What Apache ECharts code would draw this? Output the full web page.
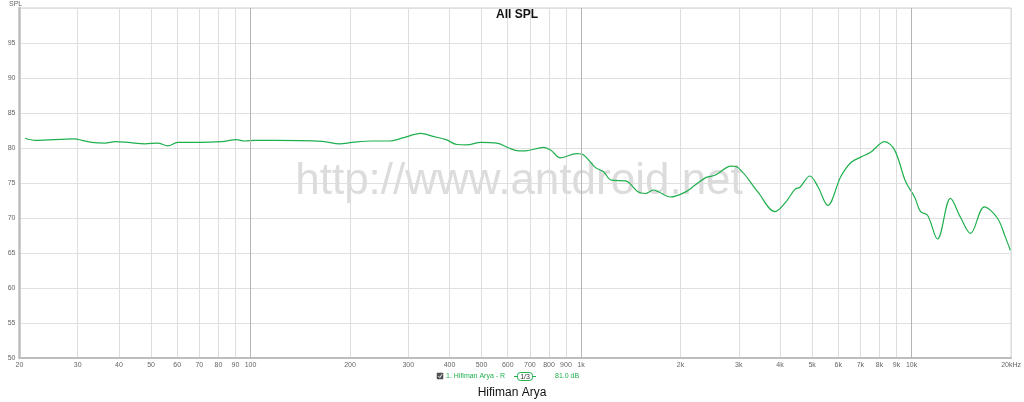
<!DOCTYPE html>
<html>
<head>
<meta charset="utf-8">
<script src="https://cdn.jsdelivr.net/npm/echarts@6/dist/echarts.min.js"></script>
<style>
html,body{margin:0;padding:0;background:#fff;}
#chart{width:1024px;height:402px;}
</style>
</head>
<body>
<div id="chart"></div>
<script>
// Frequency (Hz) and SPL (dB)
var freqs = [20.8,22.3,29.4,30.9,33.1,36.3,38.9,42.6,47.9,52.4,56.2,60.2,67.8,81.8,90.7,95.9,102.8,118,165,186,203,233,263,287,328,354,390,421,451,498,556,604,648,680,771,809,867,969,1018,1106,1169,1236,1363,1491,1566,1655,1714,1862,2066,2214,2390,2544,2844,2986,3430,3862,4168,4436,4594,4924,5204,5578,6104,6544,7016,7520,8292,8888,9592,10210,10646,11176,11980,13114,14058,15068,16608,18174,19212,19890];
var spl = [81.4,81.1,81.3,81.1,80.8,80.7,80.9,80.8,80.6,80.7,80.3,80.8,80.8,80.9,81.2,81.0,81.1,81.1,80.95,80.6,80.8,81.0,81.0,81.4,82.1,81.7,81.2,80.5,80.45,80.8,80.7,80.0,79.6,79.6,80.1,79.7,78.6,79.2,79.0,77.2,76.6,75.4,75.3,73.7,73.5,74.0,73.75,73.0,73.7,74.7,75.8,76.1,77.4,77.2,73.7,70.9,72.3,74.1,74.4,76.0,74.5,71.8,75.9,77.9,78.7,79.4,80.9,79.7,75.2,73.0,70.9,70.4,67.0,72.8,70.1,67.8,71.6,70.0,67.3,65.4];

// X-axis grid / tick frequencies and their labels
var tickFreqs = [20,30,40,50,60,70,80,90,100,200,300,400,500,600,700,800,900,1000,2000,3000,4000,5000,6000,7000,8000,9000,10000,20000];
var tickLabels = ['20','30','40','50','60','70','80','90','100','200','300','400','500','600','700','800','900','1k','2k','3k','4k','5k','6k','7k','8k','9k','10k','20kHz'];
var decadeFreqs = [100,1000,10000];

var title = 'All SPL';
var subtitle = 'Hifiman Arya';
var legendName = '1. Hifiman Arya - R';
var legendSmoothing = '1/3';
var legendLevel = '81.0 dB';
var watermark = 'http://www.antdroid.net';
var yName = 'SPL';

var lg = function(v){ return Math.log(v) / Math.LN10; };
var tickPos = tickFreqs.map(lg);
var labelMap = {};
tickFreqs.forEach(function(f, i){ labelMap[Math.round(lg(f) * 10000)] = tickLabels[i]; });

var chart = echarts.init(document.getElementById('chart'), null, {renderer: 'canvas'});
var FONT = '"Liberation Sans", Arial, sans-serif';
var green = '#1fb04e';

chart.setOption({
  backgroundColor: '#ffffff',
  animation: false,
  grid: {left: 19.5, right: 9.5, top: 8, bottom: 44, show: true, borderColor: '#cfcfcf', borderWidth: 1},
  xAxis: {
    type: 'value',
    min: lg(20),
    max: lg(20000),
    axisLine: {show: true, onZero: false, lineStyle: {color: '#bdbdbd', width: 2}},
    axisTick: {show: false, customValues: tickPos},
    axisLabel: {
      customValues: tickPos,
      fontSize: 7, color: '#666', fontFamily: FONT, margin: 4,
      formatter: function(v){ var k = labelMap[Math.round(v * 10000)]; return k === undefined ? '' : k; }
    },
    splitLine: {show: true, lineStyle: {color: '#dedede', width: 1}}
  },
  yAxis: {
    type: 'value',
    min: 50, max: 100, interval: 5,
    axisLine: {show: true, lineStyle: {color: '#bdbdbd', width: 2.5}},
    axisTick: {show: false},
    axisLabel: {
      fontSize: 7, color: '#666', fontFamily: FONT, margin: 4,
      formatter: function(v){ return v >= 100 ? '' : String(v); }
    },
    splitLine: {show: true, lineStyle: {color: '#e0e0e0', width: 1}}
  },
  graphic: [
    {type: 'text', left: 9, top: 1, z: 5, style: {text: yName, font: '7px ' + FONT, fill: '#666'}},
    {type: 'text', x: 519, y: 182, z: 1, silent: true,
     style: {text: watermark, font: '44px ' + FONT, fill: '#dcdcdc', textAlign: 'center', textVerticalAlign: 'middle'}},
    {type: 'text', x: 517, y: 15, z: 5,
     style: {text: title, font: 'bold 12px ' + FONT, fill: '#111', textAlign: 'center', textVerticalAlign: 'middle'}},
    {type: 'text', x: 512, y: 393, z: 5,
     style: {text: subtitle, font: '12px ' + FONT, fill: '#111', textAlign: 'center', textVerticalAlign: 'middle'}},
    // legend: checkbox
    {type: 'rect', z: 5, shape: {x: 437, y: 373, width: 6, height: 6}, style: {fill: '#555', stroke: '#444', lineWidth: 0.5}},
    {type: 'polyline', z: 6, shape: {points: [[438.3, 376], [439.8, 377.6], [442, 374.2]]}, style: {stroke: '#fff', lineWidth: 0.9, fill: null}},
    {type: 'text', x: 446, y: 376.5, z: 5,
     style: {text: legendName, font: '7px ' + FONT, fill: green, textVerticalAlign: 'middle'}},
    {type: 'line', z: 5, shape: {x1: 514, y1: 376.5, x2: 536, y2: 376.5}, style: {stroke: green, lineWidth: 1}},
    {type: 'rect', z: 6, shape: {x: 517.5, y: 372.5, width: 15, height: 8, r: 3}, style: {fill: '#fff', stroke: green, lineWidth: 1}},
    {type: 'text', x: 525, y: 376.8, z: 7,
     style: {text: legendSmoothing, font: '7px ' + FONT, fill: '#333', textAlign: 'center', textVerticalAlign: 'middle'}},
    {type: 'text', x: 555, y: 376.5, z: 5,
     style: {text: legendLevel, font: '7px ' + FONT, fill: green, textVerticalAlign: 'middle'}}
  ],
  series: [{
    type: 'line',
    data: freqs.map(function(f, i){ return [lg(f), spl[i]]; }),
    showSymbol: false,
    smooth: 0.35,
    lineStyle: {color: green, width: 1.2},
    z: 3,
    markLine: {
      silent: true,
      symbol: 'none',
      label: {show: false},
      lineStyle: {color: '#b4b4b4', width: 1, type: 'solid'},
      data: decadeFreqs.map(function(f){ return {xAxis: lg(f)}; })
    }
  }]
});
</script>
</body>
</html>
